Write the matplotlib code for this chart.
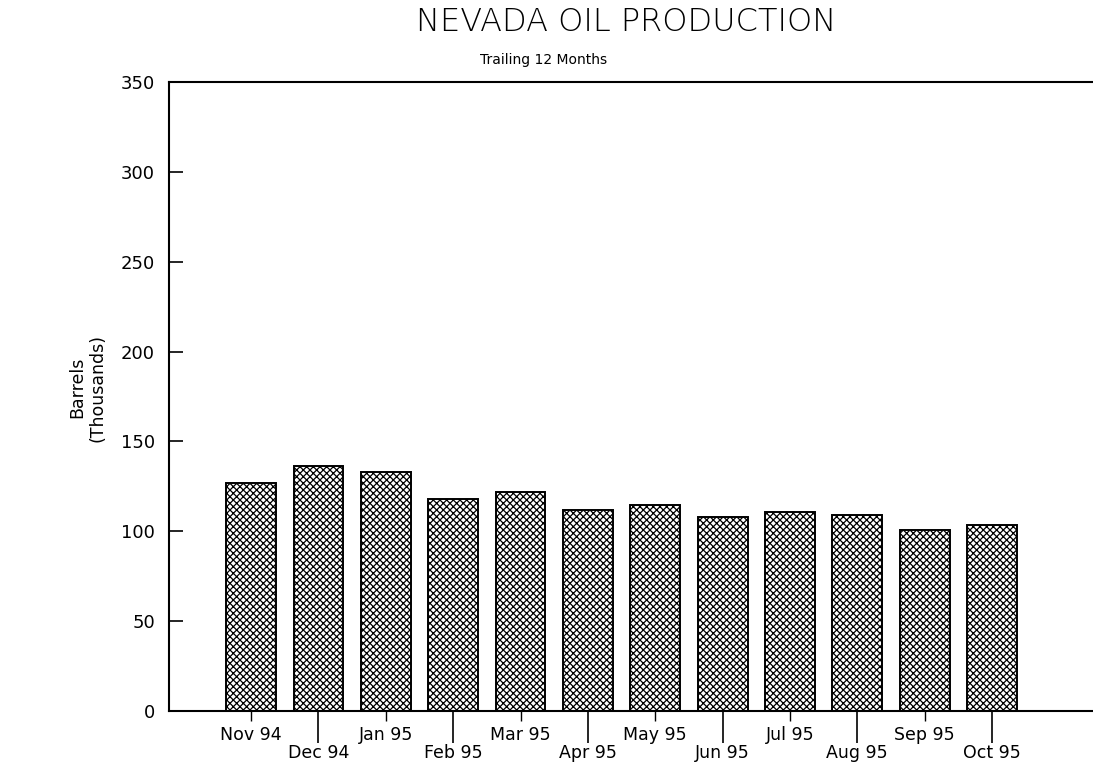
import matplotlib
matplotlib.use("Agg")
import matplotlib.pyplot as plt
import numpy as np

# values (thousand barrels, trailing 12 months)
months = ["Nov 94", "Dec 94", "Jan 95", "Feb 95", "Mar 95", "Apr 95",
          "May 95", "Jun 95", "Jul 95", "Aug 95", "Sep 95", "Oct 95"]
barrels = [127, 136.5, 133, 118, 122, 112, 114.5, 108, 110.5, 109, 100.5, 103.5]
y_ticks = [0, 50, 100, 150, 200, 250, 300, 350]

plt.rcParams['hatch.linewidth'] = 0.9

fig = plt.figure(figsize=(10.93, 7.63), dpi=100)
ax = fig.add_axes([0.1546, 0.0682, 0.8454, 0.8243])

x = np.arange(len(months))
ax.bar(x, barrels, width=0.74, facecolor='white', edgecolor='black',
       linewidth=1.4, hatch='xxxxx')

ax.set_xlim(-1.22, 12.5)
ax.set_ylim(0, 350)
ax.set_yticks(y_ticks)
ax.set_yticklabels([str(v) for v in y_ticks], fontsize=13)
ax.tick_params(axis='y', direction='in', length=10, width=1.2, pad=10)

# staggered month labels: even months on the upper row, odd months below
even = x[::2]
odd = x[1::2]
ax.set_xticks(even)
ax.set_xticklabels([months[i] for i in even], fontsize=12.5)
ax.set_xticks(odd, minor=True)
ax.set_xticklabels([months[i] for i in odd], minor=True, fontsize=12.5)
ax.tick_params(axis='x', which='major', direction='out', length=7, width=1.0, pad=4)
ax.tick_params(axis='x', which='minor', direction='out', length=23, width=1.2, pad=0.5)

for side in ['left', 'bottom', 'top']:
    ax.spines[side].set_linewidth(1.5)
ax.spines['right'].set_visible(False)

fig.text(0.573, 0.971, "NEVADA OIL PRODUCTION", ha='center', va='center',
         fontsize=23, fontweight='light', family='DejaVu Sans')
fig.text(0.497, 0.921, "Trailing 12 Months", ha='center', va='center', fontsize=10)
fig.text(0.08, 0.492, "Barrels\n(Thousands)", ha='center', va='center',
         rotation=90, fontsize=12.5, linespacing=1.2)

fig.savefig("out.png", dpi=100)
